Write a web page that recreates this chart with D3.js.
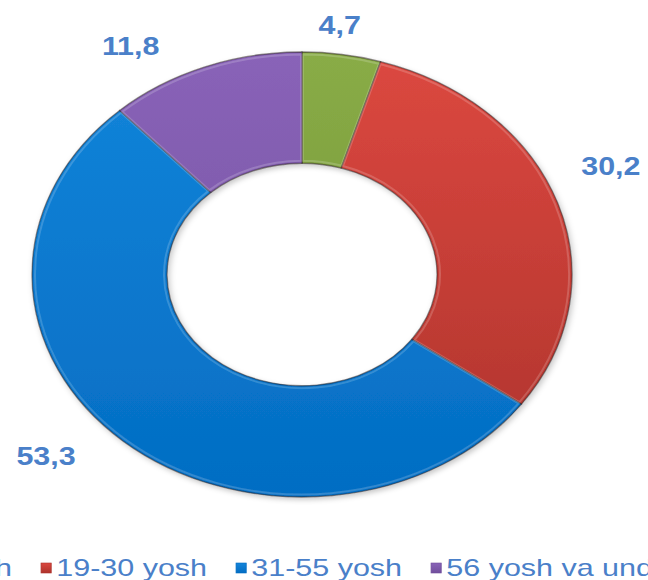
<!DOCTYPE html>
<html>
<head>
<meta charset="utf-8">
<script src="https://cdn.jsdelivr.net/npm/d3@7"></script>
<style>
  body { margin: 0; background: #fff; }
  svg { display: block; }
</style>
</head>
<body>
<div id="chart"></div>
<script>
// data
const categories = ["0-18 yosh", "19-30 yosh", "31-55 yosh", "56 yosh va undan katta"];
const values = [4.7, 30.2, 53.3, 11.8];
const colorsTop = ["#89ac46", "#dc4840", "#1485da", "#8963b8"];
const colorsBottom = ["#6f8f36", "#ad332c", "#036dc3", "#714e9c"];

const width = 648, height = 580;
const cx = 302, cy = 274.5;
const squash = 0.824; // picture is stretched wider than tall
const R = 270;
const labelColor = "#4a80c9";

// label nudges (manually dragged labels in the original)
const labelNudge = [[-10, 14], [2, -23], [-41, -19], [-54, 20]];

const uz = d3.formatLocale({ decimal: ",", thousands: " ", grouping: [3], currency: ["", ""] });
const fmt = uz.format(".1f");

const svg = d3.select("#chart")
  .append("svg")
  .attr("width", width)
  .attr("height", height);

svg.append("rect").attr("width", width).attr("height", height).attr("fill", "#fff");

const defs = svg.append("defs");
values.forEach((v, i) => {
  const g = defs.append("linearGradient")
    .attr("id", "grad" + i)
    .attr("gradientUnits", "userSpaceOnUse")
    .attr("x1", 0).attr("y1", -R).attr("x2", 0).attr("y2", R);
  g.append("stop").attr("offset", "0%").attr("stop-color", colorsTop[i]);
  g.append("stop").attr("offset", "100%").attr("stop-color", colorsBottom[i]);
});

const shadow = defs.append("filter").attr("id", "shadow")
  .attr("x", "-20%").attr("y", "-20%").attr("width", "140%").attr("height", "140%");
shadow.append("feDropShadow")
  .attr("dx", 2).attr("dy", 3).attr("stdDeviation", 3)
  .attr("flood-color", "#000").attr("flood-opacity", 0.22);

const pie = d3.pie().sort(null).value(d => d);
const arcs = pie(values);

const arc = d3.arc().innerRadius(R * 0.5).outerRadius(R);
const labelArc = d3.arc().innerRadius(R * 1.2).outerRadius(R * 1.2);

const donut = svg.append("g")
  .attr("transform", "translate(" + cx + "," + cy + ") scale(1," + squash + ")")
  .attr("filter", "url(#shadow)");

donut.selectAll("path")
  .data(arcs)
  .enter()
  .append("path")
  .attr("d", arc)
  .attr("fill", (d, i) => "url(#grad" + i + ")")
  .attr("stroke", "rgba(40,30,30,0.5)")
  .attr("stroke-width", 1.3)
  .attr("vector-effect", "non-scaling-stroke");

// soft inner highlight for the bevel look
donut.selectAll("path.hl")
  .data(arcs)
  .enter()
  .append("path")
  .attr("class", "hl")
  .attr("d", d3.arc().innerRadius(R * 0.5 + 3).outerRadius(R - 3).padAngle(0.006))
  .attr("fill", "none")
  .attr("stroke", "rgba(255,255,255,0.18)")
  .attr("stroke-width", 2)
  .attr("vector-effect", "non-scaling-stroke");

// value labels
svg.append("g")
  .selectAll("g")
  .data(arcs)
  .enter()
  .append("g")
  .attr("transform", (d, i) => {
    const c = labelArc.centroid(d);
    const x = cx + c[0] + labelNudge[i][0];
    const y = cy + c[1] * squash + labelNudge[i][1];
    return "translate(" + x + "," + y + ") scale(1.17,1)";
  })
  .append("text")
  .attr("text-anchor", "middle")
  .attr("dy", "0.36em")
  .style("font-family", "'Liberation Sans', Arial, sans-serif")
  .style("font-weight", "bold")
  .style("font-size", "26px")
  .attr("fill", labelColor)
  .text(d => fmt(d.data));

// legend (runs off both edges, as in the original)
const legendScale = 1.27;
const legend = svg.append("g").attr("transform", "translate(-137,576)");
let lx = 0;
categories.forEach((c, i) => {
  const item = legend.append("g").attr("transform", "translate(" + lx + ",0) scale(" + legendScale + ",1)");
  const lg = defs.append("linearGradient").attr("id", "lg" + i)
    .attr("x1", 0).attr("y1", 0).attr("x2", 0).attr("y2", 1);
  lg.append("stop").attr("offset", "0%").attr("stop-color", colorsTop[i]);
  lg.append("stop").attr("offset", "100%").attr("stop-color", colorsBottom[i]);
  item.append("rect")
    .attr("x", 0).attr("y", -13)
    .attr("width", 8).attr("height", 10)
    .attr("fill", "url(#lg" + i + ")")
    .attr("stroke", colorsBottom[i]).attr("stroke-width", 0.6);
  const t = item.append("text")
    .attr("x", 12)
    .style("font-family", "'Liberation Sans', Arial, sans-serif")
    .style("font-size", "24px")
    .attr("fill", labelColor)
    .text(c);
  lx += (12 + t.node().getComputedTextLength()) * legendScale + 29;
});
</script>
</body>
</html>
